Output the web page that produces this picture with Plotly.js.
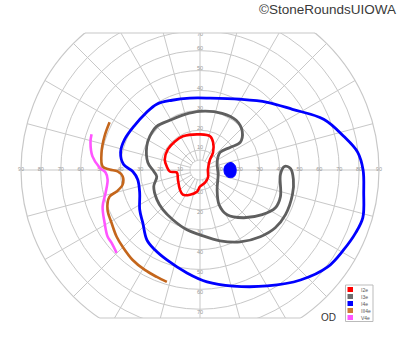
<!DOCTYPE html>
<html><head><meta charset="utf-8">
<script src="https://cdn.plot.ly/plotly-3.0.1.min.js"></script>
<style>
html,body{margin:0;padding:0;overflow:hidden;width:400px;height:352px;background:#fff}
#chart{position:absolute;left:0;top:-30px;width:400px;height:400px}
</style>
</head><body><div id="chart"></div>
<script>
// ---- isopter data (theta in degrees CCW from right, r in degrees of field) ----
const i2eTheta = [90, 73.4, 64.7, 53.4, 46.4, 3.6, 317, 291.8, 270, 262, 247.8, 235.2, 224.3, 203.4, 186.2, 182.9, 173.9, 163.3, 147.4, 131.3, 116.9];
const i2eR     = [17.9, 17.7, 15.4, 11.0, 7.3, 4.0, 5.5, 6.8, 8.3, 11.0, 13.4, 15.1, 14.1, 12.1, 11.7, 15.2, 16.8, 18.5, 19.2, 19.1, 19.0];

const i3eTheta = [90, 105.1, 121.2, 134.7, 146.2, 156.1, 171.8, 181.9, 188.6, 199.7, 214.5, 226.9, 241.4, 257.7, 270, 285.8, 299.2, 312.1, 322.5, 332.4, 345.1, 354.2, 1.0, 2.4, 356.8, 341.7, 333.4, 324.3, 312.2, 301.2, 298.8, 311.1, 346, 23.8, 41.2, 36.9, 34.5, 42.5, 54, 68.7];
const i3eR     = [29.5, 29.0, 29.2, 30.9, 30.4, 29.3, 26.5, 23.2, 22.0, 24.7, 26.3, 27.3, 28.5, 30.8, 32.6, 37.0, 41.4, 45.2, 47.7, 48.5, 48.1, 47.2, 45.5, 42.5, 40.5, 42.6, 42.4, 38.5, 32.4, 26.3, 19.9, 13.1, 9.4, 9.4, 13.4, 18.9, 24.5, 28.8, 30.9, 30.6];

const i4eTheta = [0, 6.4, 13.2, 22.3, 33.3, 45.2, 60.4, 82, 98, 111.9, 123.3, 133.7, 145.6, 157.9, 167.5, 175.9, 181.3, 188.7, 200.6, 213.4, 222.6, 232.7, 240.5, 249.8, 262.8, 273.6, 285.9, 300.1, 312.4, 322.8, 330.9, 338.0, 343.7, 352.1];
const i4eR     = [82, 79.8, 74.2, 67.2, 55.6, 48.0, 40.9, 36.5, 36.5, 37.8, 39.6, 39.5, 39.8, 40.9, 40.9, 38.5, 33.8, 31.7, 32.4, 36.3, 39.1, 44.1, 46.1, 48.2, 52.2, 56.4, 60.7, 67.4, 74.9, 80.6, 82.6, 84.4, 85.3, 83.1];

const blindTheta = [11.9, 13.6, 7.3, 357.6, 349.2, 345.5, 349.8, 3.6];
const blindR     = [13.4, 16.1, 17.8, 18.2, 17.5, 15.1, 12.8, 12.1];

const iii4eTheta = [152.2, 160.6, 169.9, 177.9, 179.7, 181.0, 184.8, 190.7, 194.5, 196.4, 203.2, 210.8, 218.7, 224.8, 233.2, 241.1, 248.0, 253.5];
const iii4eR     = [51.4, 50.9, 50.3, 49.0, 45.5, 41.4, 39.0, 39.6, 43.3, 47.4, 50.6, 51.8, 53.7, 54.8, 56.5, 57.4, 58.0, 58.7];

const v4eTheta = [161.8, 165.8, 172.8, 178.6, 181.5, 185.9, 193.5, 200.6, 208.9, 215.9, 219.5, 224.8];
const v4eR     = [57.4, 56.8, 54.5, 50.5, 47.5, 46.7, 48.8, 52.3, 54.8, 57.3, 57.6, 59.1];

// ---- labels ----
const legendNames  = ["I2e", "I3e", "I4e", "III4e", "V4e"];
const legendColors = ["#ff0000", "#6e6e6e", "#0000ff", "#cc7a33", "#ff55ff"];
const horizTicks   = [10, 20, 30, 40, 50, 60, 70, 80, 90];
const upperTicks   = [10, 20, 30, 40, 50, 60, 70];
const lowerTicks   = [10, 20, 30, 40, 50, 60, 70];
const eyeLabel = "OD";
const credit = "\u00A9StoneRoundsUIOWA";

// ---- geometry helpers (page pixels -> paper of 400x400 div shifted up 30px) ----
const CX = 200, CY = 170, RPX = 179;
const px = x => x / 400;
const py = y => 1 - (y + 30) / 400;
const close = a => a.concat([a[0]]);

const gridCol = "#c8c8c8";
const traces = [];

// inner 5-degree disc (hides spokes inside it) + cross
const discTheta = [], discR = [];
for (let a = 0; a <= 360; a += 5) { discTheta.push(a); discR.push(5); }
traces.push({type: "scatterpolar", theta: discTheta, r: discR, mode: "lines", fill: "toself",
  fillcolor: "#ffffff", line: {color: gridCol, width: 1}, hoverinfo: "skip", showlegend: false});
traces.push({type: "scatterpolar", theta: [0, 0, null, 90, 90, null, 180, 180, null, 270, 270],
  r: [0, 5, null, 0, 5, null, 0, 5, null, 0, 5], mode: "lines",
  line: {color: gridCol, width: 1}, hoverinfo: "skip", showlegend: false});

// axis labels
const lblFont = {family: "Liberation Sans, Arial, sans-serif", size: 5.5, color: "#999999"};
traces.push({type: "scatterpolar", mode: "text", theta: horizTicks.map(() => 180), r: horizTicks,
  text: horizTicks.map(String), textfont: lblFont, textposition: "middle center", hoverinfo: "skip", showlegend: false});
traces.push({type: "scatterpolar", mode: "text", theta: horizTicks.map(() => 0), r: horizTicks,
  text: horizTicks.map(String), textfont: lblFont, textposition: "middle center", hoverinfo: "skip", showlegend: false});
traces.push({type: "scatterpolar", mode: "text", theta: upperTicks.map(() => 90),
  r: upperTicks.map(v => Math.min(v + 1, 68)),
  text: upperTicks.map(String), textfont: lblFont, textposition: "middle center", hoverinfo: "skip", showlegend: false});
traces.push({type: "scatterpolar", mode: "text", theta: lowerTicks.map(() => 270), r: lowerTicks.map(v => v + 1.5),
  text: lowerTicks.map(String), textfont: lblFont, textposition: "middle center", hoverinfo: "skip", showlegend: false});

// isopters
function iso(theta, r, color, closed, width) {
  return {type: "scatterpolar", mode: "lines",
    theta: closed ? close(theta) : theta, r: closed ? close(r) : r,
    line: {color: color, width: width, shape: "spline", smoothing: 1},
    hoverinfo: "skip", showlegend: false};
}
traces.push(iso(v4eTheta, v4eR, legendColors[4], false, 2.6));
traces.push(iso(iii4eTheta, iii4eR, "#c4661c", false, 2.6));
traces.push(iso(i3eTheta, i3eR, "#5f5f5f", true, 2.8));
traces.push(iso(i4eTheta, i4eR, legendColors[2], true, 2.8));
traces.push(iso(i2eTheta, i2eR, legendColors[0], true, 2.6));
traces.push({type: "scatterpolar", mode: "lines", theta: close(blindTheta), r: close(blindR),
  fill: "toself", fillcolor: "#0000ff", line: {color: "#0000ff", width: 1, shape: "spline"},
  hoverinfo: "skip", showlegend: false});

// masks for the flattened top and bottom
const topY = 33, botY = 318;
const hwTop = Math.sqrt(RPX * RPX - (CY - topY) ** 2);
const hwBot = Math.sqrt(RPX * RPX - (botY - CY) ** 2);
const shapes = [
  {type: "rect", xref: "paper", yref: "paper", x0: -0.1, x1: 1.1, y0: py(topY), y1: 1.2,
   fillcolor: "#ffffff", line: {width: 0}, layer: "above"},
  {type: "rect", xref: "paper", yref: "paper", x0: -0.1, x1: 1.1, y0: -0.2, y1: py(botY),
   fillcolor: "#ffffff", line: {width: 0}, layer: "above"},
  {type: "line", xref: "paper", yref: "paper", x0: px(CX - hwTop), x1: px(CX + hwTop), y0: py(topY), y1: py(topY),
   line: {color: gridCol, width: 1.2}, layer: "above"},
  {type: "line", xref: "paper", yref: "paper", x0: px(CX - hwBot), x1: px(CX + hwBot), y0: py(botY), y1: py(botY),
   line: {color: gridCol, width: 1.2}, layer: "above"},
  // legend box
  {type: "rect", xref: "paper", yref: "paper", x0: px(345.5), x1: px(373), y0: py(285), y1: py(321.5),
   fillcolor: "#ffffff", line: {color: "#bbbbbb", width: 1}, layer: "above"}
];
const annotations = [
  {xref: "paper", yref: "paper", x: px(398), y: py(9), xanchor: "right", yanchor: "middle", showarrow: false,
   text: credit, font: {family: "Liberation Sans, Arial, sans-serif", size: 13.5, color: "#3a3a3a"}},
  {xref: "paper", yref: "paper", x: px(328.5), y: py(317), xanchor: "center", yanchor: "middle", showarrow: false,
   text: eyeLabel, font: {family: "Liberation Sans, Arial, sans-serif", size: 10, color: "#333333"}}
];
legendNames.forEach((nm, i) => {
  const yc = 289.5 + i * 7;
  shapes.push({type: "rect", xref: "paper", yref: "paper", x0: px(347.5), x1: px(353), y0: py(yc + 2.5), y1: py(yc - 2.5),
    fillcolor: legendColors[i], line: {width: 0}, layer: "above"});
  annotations.push({xref: "paper", yref: "paper", x: px(358.5), y: py(yc), xanchor: "left", yanchor: "middle",
    showarrow: false, text: nm, font: {family: "Liberation Sans, Arial, sans-serif", size: 5, color: "#555555"}});
});

const layout = {
  width: 400, height: 400,
  margin: {l: 0, r: 0, t: 0, b: 0},
  paper_bgcolor: "#ffffff",
  showlegend: false,
  polar: {
    domain: {x: [(CX - RPX) / 400, (CX + RPX) / 400], y: [py(CY + RPX), py(CY - RPX)]},
    bgcolor: "#ffffff",
    radialaxis: {range: [0, 90], dtick: 10, tick0: 0, showticklabels: false, ticks: "",
      showline: false, gridcolor: gridCol, gridwidth: 1},
    angularaxis: {dtick: 15, rotation: 0, direction: "counterclockwise", showticklabels: false, ticks: "",
      showline: true, linecolor: gridCol, linewidth: 1.2, gridcolor: gridCol, gridwidth: 1}
  },
  shapes: shapes,
  annotations: annotations
};
Plotly.newPlot("chart", traces, layout, {staticPlot: true, displayModeBar: false});
</script>
</body></html>
